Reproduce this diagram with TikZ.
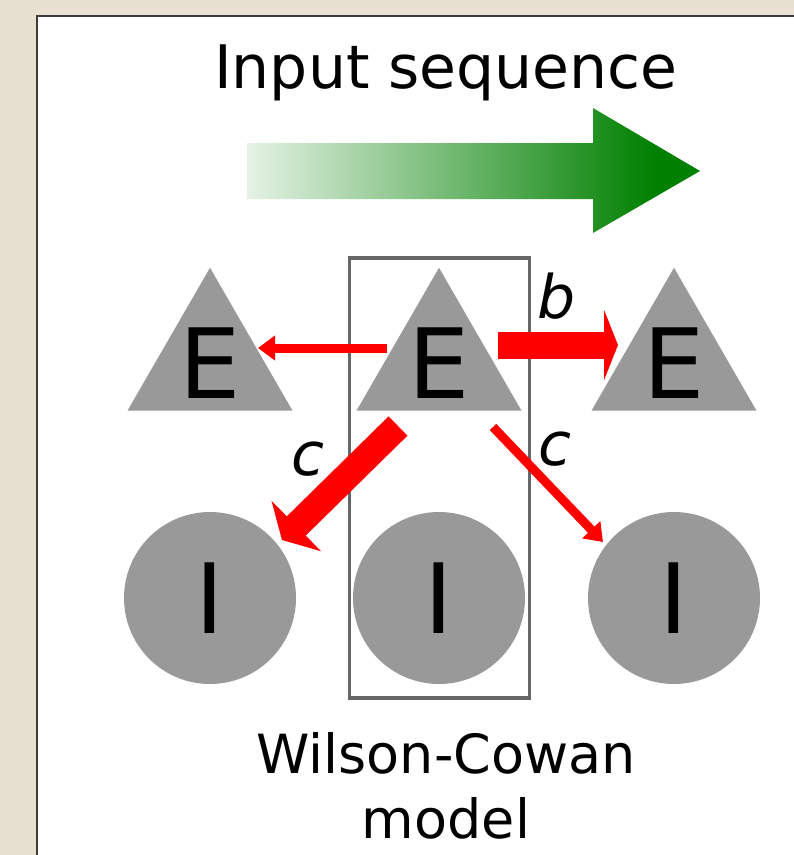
\documentclass[tikz,border=0pt]{standalone}
\usepackage{fontspec}
\setmainfont{DejaVu Sans}
\usetikzlibrary{shapes.geometric,arrows.meta}
\definecolor{paper}{RGB}{232,224,209}
\definecolor{frame}{RGB}{60,60,60}
\definecolor{cellgray}{RGB}{153,153,153}
\definecolor{boxgray}{RGB}{102,102,102}
\definecolor{seqgreen}{RGB}{0,128,0}
\colorlet{seqpale}{seqgreen!10!white}
\pgfdeclarehorizontalshading{seqshade}{100bp}{color(0bp)=(seqpale); color(25bp)=(seqpale); color(70bp)=(seqgreen); color(100bp)=(seqgreen)}
\tikzset{
  exc/.style={regular polygon, regular polygon sides=3, fill=cellgray, minimum size=190.5pt, inner sep=-6pt, font=\fontsize{97}{97}\selectfont},
  inh/.style={circle, fill=cellgray, minimum size=172pt, inner sep=0pt, font=\fontsize{97}{97}\selectfont},
  thinlink/.style={draw=red, line width=9pt, -{Triangle[length=17pt,width=24pt]}},
  thicklink/.style={draw=red, line width=27pt, -{Triangle[length=#1,width=70pt]}},
  weight/.style={font=\fontsize{60}{60}\selectfont\itshape, anchor=base},
}
\begin{document}
\begin{tikzpicture}[x=1pt,y=-1pt]
   \useasboundingbox (0,0) rectangle (794,855);
   \clip (0,0) rectangle (794,855);
   \fill[paper] (0,0) rectangle (794,855);
   \draw[frame, line width=2.5pt, fill=white] (37,16) rectangle (820,880);
   % input sequence arrow
   \shade[shading=seqshade] (247,143) -- (593,143) -- (593,108) -- (700,171)
      -- (593,233) -- (593,199) -- (247,199) -- cycle;
   \node[font=\fontsize{60}{60}\selectfont, anchor=base] (title) at (446,88) {Input sequence};
   % model box
   \draw[boxgray, line width=3.5pt] (349.5,258) rectangle (529.5,698);
   % cells
   \node[exc] (El) at (210,363) {E};
   \node[exc] (Ec) at (439,363) {E};
   \node[exc] (Er) at (674,363) {E};
   \node[inh] (Il) at (210,598) {I};
   \node[inh] (Ic) at (439,598) {I};
   \node[inh] (Ir) at (674,598) {I};
   % couplings
   \draw[thinlink] ([shift={(-52,-15)}]Ec.center) -- ([shift={(48,-15)}]El.center);
   \draw[thicklink=14pt] ([shift={(59,-18)}]Ec.center) -- ([shift={(-56,-18)}]Er.center);
   \draw[thicklink=20pt] ([shift={(-41,63)}]Ec.center) -- ([shift={(72,-58)}]Il.center);
   \draw[thinlink] ([shift={(54,64)}]Ec.center) -- ([shift={(-71,-56)}]Ir.center);
   \node[weight] (wb) at (557,318) {b};
   \node[weight] (wcl) at (308,475) {c};
   \node[weight] (wcr) at (555,465) {c};
   \node[font=\fontsize{54}{65}\selectfont, align=center, anchor=base] (caption) at (446,838) {Wilson-Cowan\\model};
 \end{tikzpicture}
\end{document}
